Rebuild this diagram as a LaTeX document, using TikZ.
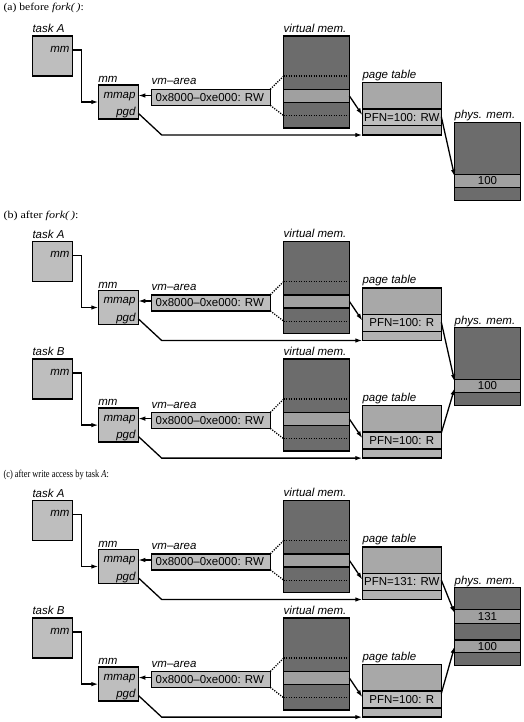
\documentclass[tikz,border=0pt]{standalone}
\usepackage{graphicx}
\usepackage{fontspec}
\setmainfont{Liberation Serif}
\newfontfamily\lsans{Liberation Sans}
\usetikzlibrary{arrows.meta,calc}
\definecolor{lgray}{HTML}{BEBEBE}
\definecolor{dgray}{HTML}{6C6C6C}
\definecolor{mgray}{HTML}{A0A0A0}
\definecolor{ptgray}{HTML}{A8A8A8}
\definecolor{ptlow}{HTML}{B2B2B2}
\tikzset{
  bx/.style={draw=black, line width=1.4pt, inner sep=0pt, outer sep=0pt, anchor=north west},
  gbox/.style={bx, fill=lgray},
  lbl/.style={font=\lsans\itshape\fontsize{11.5}{12}\selectfont, inner sep=0pt, outer sep=0pt},
  txt/.style={font=\lsans\fontsize{11.5}{12}\selectfont},
  conn/.style={line width=1.3pt, -{Latex[length=7pt,width=4.5pt]}},
  dots/.style={line width=1.3pt, dash pattern=on 1.2pt off 1.3pt},
  ttl/.style={font=\fontsize{10.5}{12}\selectfont, anchor=base west, inner sep=0pt},
}
% #1 prefix, #2 offset, #3 task letter, #4 PFN text
\newcommand\procgroup[4]{%
\begin{scope}[yshift=-#2pt]
  \node[lbl,anchor=base west] (#1tl) at (32.5,32.8) {task #3};
  \node[gbox,minimum width=40pt,minimum height=40pt] (#1task) at (32.3,36) {};
  \node[lbl,anchor=base east] (#1tm) at (69.5,52.3) {mm};
  \node[lbl,anchor=base west] (#1ml) at (98.3,82.7) {mm};
  \node[gbox,minimum width=40pt,minimum height=34pt] (#1mm) at (98.3,85) {};
  \node[lbl,anchor=base east] (#1mmap) at (135.5,98.3) {mmap};
  \node[lbl,anchor=base east] (#1pgd) at (135.5,115.5) {pgd};
  \node[lbl,anchor=base west] (#1vl) at (151.7,85) {vm–area};
  \node[gbox,minimum width=118.6pt,minimum height=16pt] (#1vma) at (151.7,89.3) {};
  \node[txt,anchor=west,inner sep=0pt] (#1vmt) at (155.5,97.5) {0x8000–0xe000: RW};
  % virtual memory
  \node[lbl,anchor=base west] (#1vml) at (283.7,32.3) {virtual mem.};
  \node[bx,fill=dgray,minimum width=65.6pt,minimum height=92pt] (#1vm) at (283.7,36) {};
  \node[bx,fill=mgray,minimum width=65.6pt,minimum height=13pt] (#1vb) at (283.7,89.3) {};
  \draw[dots] ([yshift=-40pt]#1vm.north west) -- ([yshift=-40pt]#1vm.north east);
  \draw[dots] ([yshift=-79.7pt]#1vm.north west) -- ([yshift=-79.7pt]#1vm.north east);
  % page table
  \node[lbl,anchor=base west] (#1ptl) at (362.5,78.3) {page table};
  \node[bx,fill=ptlow,minimum width=79pt,minimum height=52.7pt] (#1pt) at (362.3,82.3) {};
  \node[bx,fill=ptgray,minimum width=79pt,minimum height=26.7pt] (#1ptt) at (362.3,82.3) {};
  \node[bx,fill=lgray,minimum width=79pt,minimum height=16.7pt,txt] (#1pfn) at (362.3,109) {#4};
  % connectors
  \draw[conn] ([yshift=6pt]#1task.east) -- ++(9.4,0) |- (#1mm.west);
  \coordinate (#1va) at ([yshift=1.8pt]#1vma.west);
  \draw[conn] (#1va) -- (#1va -| #1mm.east);
  \coordinate (#1pg) at ([yshift=-11.3pt]#1mm.east);
  \coordinate (#1bend) at (161.7,135);
  \draw[conn] (#1pg) -- (#1bend) -- (#1pt.south west);
  \draw[dots] (#1vma.north east) -- ([yshift=-40pt]#1vm.north west);
  \draw[dots] (#1vma.south east) -- ([yshift=-79.7pt]#1vm.north west);
  \draw[conn] (#1vb.east) -- ([yshift=2.3pt]#1pfn.west);
\end{scope}}
\begin{document}
\begin{tikzpicture}[x=1pt,y=-1pt]
\useasboundingbox (0,0) rectangle (524,722);
% titles
\node[ttl] (ta) at (3.3,10.5) {\scalebox{1.11}[1]{(a) before \textit{fork(\,)}:}};
\node[ttl] (tb) at (3.3,218.5) {\scalebox{1.15}[1]{(b) after \textit{fork(\,)}:}};
\node[ttl] (tc) at (3.3,477.5) {\scalebox{0.80}[1]{(c) after write access by task \textit{A}:}};
% (a)
\procgroup{a}{0}{A}{PFN=100: RW}
\node[lbl,anchor=base west] (aphl) at (454.7,119) {phys. mem.};
\node[bx,fill=dgray,minimum width=65.6pt,minimum height=78pt] (aph) at (454.7,122.3) {};
\node[bx,fill=mgray,minimum width=65.6pt,minimum height=13.4pt,txt] (aph1) at (454.7,174.3) {100};
\draw[conn] ([yshift=0.6pt]apfn.east) -- ([yshift=4.3pt]aph1.west);
% (b)
\procgroup{bA}{205.5}{A}{PFN=100: R}
\procgroup{bB}{323.1}{B}{PFN=100: R}
\node[lbl,anchor=base west] (bphl) at (454.7,324) {phys. mem.};
\node[bx,fill=dgray,minimum width=65.6pt,minimum height=78pt] (bph) at (454.7,327.3) {};
\node[bx,fill=mgray,minimum width=65.6pt,minimum height=13.4pt,txt] (bph1) at (454.7,379.3) {100};
\draw[conn] ([yshift=0.6pt]bApfn.east) -- ([yshift=4.3pt]bph1.west);
\draw[conn] ([yshift=7.5pt]bBpfn.east) -- ([yshift=-2pt]bph1.west);
% (c)
\procgroup{cA}{464.5}{A}{PFN=131: RW}
\procgroup{cB}{582.1}{B}{PFN=100: R}
\node[lbl,anchor=base west] (cphl) at (454.7,584) {phys. mem.};
\node[bx,fill=dgray,minimum width=65.6pt,minimum height=78pt] (cph) at (454.7,587.3) {};
\node[bx,fill=mgray,minimum width=65.6pt,minimum height=14pt,txt] (cph2) at (454.7,609.3) {131};
\node[bx,fill=mgray,minimum width=65.6pt,minimum height=12.5pt,txt] (cph1) at (454.7,640) {100};
\draw[conn] ([yshift=1.8pt]cApfn.east) -- ([yshift=3pt]cph2.west);
\draw[conn] ([yshift=6pt]cBpfn.east) -- (cph1.west);
\end{tikzpicture}
\end{document}
